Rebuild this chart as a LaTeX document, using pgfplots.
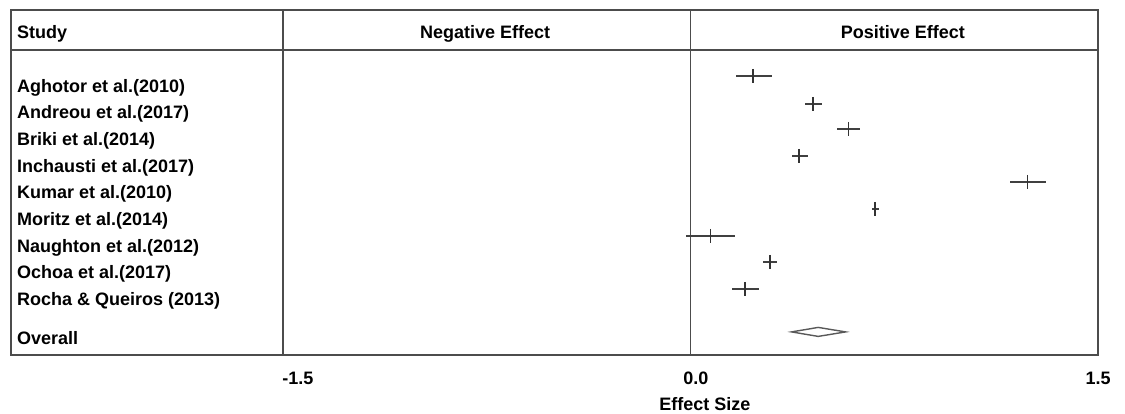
\documentclass[border=0pt]{standalone}
\usepackage{pgfplots}
\pgfplotsset{compat=1.18}
\usepackage{pgfplotstable}
\usepackage{fontspec}
\setmainfont{Liberation Sans}

\pgfplotstableread{
es     row  em     ep
0.230  76   0.064  0.069
0.452  104  0.031  0.031
0.581  129  0.041  0.043
0.400  156  0.028  0.031
1.240  182  0.064  0.067
0.680  209  0.013  0.015
0.073  236  0.090  0.091
0.293  262  0.025  0.026
0.201  289  0.047  0.051
}\studies

\begin{document}
\fontsize{9}{10.8}\selectfont\bfseries
\begin{tikzpicture}[font=\fontsize{9}{10.8}\selectfont\bfseries]
\begin{axis}[
  scale only axis, width=543.5pt, height=172.5pt,
  xmin=-2.5, xmax=1.5, ymin=10, ymax=355, y dir=reverse,
  axis line style={black!70, line width=0.9pt},
  ytick=\empty,
  xtick={-1.445,0.02,1.5}, xticklabels={-1.5,0.0,1.5},
  major tick length=0pt,
  xticklabel style={anchor=base, inner sep=0pt, yshift=-15pt, font=\fontsize{9}{10.8}\selectfont\bfseries},
  /pgf/number format/assume math mode=true,
  clip=false,
]
\path (axis cs:-2.5417,0) rectangle (axis cs:1.5994,414);
\draw[black!70, line width=0.9pt] (axis cs:-1.5,10) -- (axis cs:-1.5,355);
\draw[black!70, line width=0.9pt] (axis cs:0,10) -- (axis cs:0,355);
\draw[black!70, line width=0.9pt] (axis cs:-2.5,50) -- (axis cs:1.5,50);

\addplot[only marks, mark=|, mark size=3.5pt, draw=black!80, mark options={line width=0.8pt, draw=black!80},
  error bars/.cd, x dir=both, x explicit, error mark=none,
  error bar style={line width=0.8pt, black!75}]
  table[x=es, y=row, x error plus=ep, x error minus=em] {\studies};

\addplot[draw=black!65, fill=white, line width=0.7pt] coordinates {(0.372,332) (0.470,327.5) (0.571,332) (0.470,336.5)} -- cycle;

\begin{scope}[every node/.style={inner sep=0pt}]
\node[anchor=base west] at (axis cs:-2.480,38.5) {Study};
\node[anchor=base] at (axis cs:-0.756,38.5) {Negative Effect};
\node[anchor=base] at (axis cs:0.782,38.5) {Positive Effect};

\node[anchor=base west] at (axis cs:-2.480,92.3) {Aghotor et al.(2010)};
\node[anchor=base west] at (axis cs:-2.480,118.9) {Andreou et al.(2017)};
\node[anchor=base west] at (axis cs:-2.480,145.5) {Briki et al.(2014)};
\node[anchor=base west] at (axis cs:-2.480,172.1) {Inchausti et al.(2017)};
\node[anchor=base west] at (axis cs:-2.480,198.7) {Kumar et al.(2010)};
\node[anchor=base west] at (axis cs:-2.480,225.5) {Moritz et al.(2014)};
\node[anchor=base west] at (axis cs:-2.480,252.3) {Naughton et al.(2012)};
\node[anchor=base west] at (axis cs:-2.480,278.8) {Ochoa et al.(2017)};
\node[anchor=base west] at (axis cs:-2.480,305.5) {Rocha \& Queiros (2013)};
\node[anchor=base west] at (axis cs:-2.480,345) {Overall};

\node[anchor=base] at (axis cs:0.053,411) {Effect Size};
\end{scope}
\end{axis}
\end{tikzpicture}
\end{document}
